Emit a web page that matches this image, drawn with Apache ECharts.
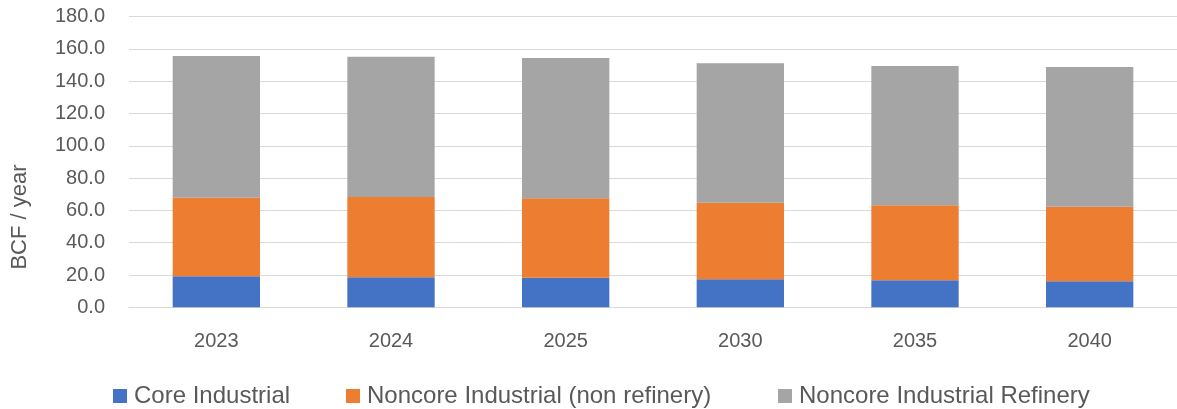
<!DOCTYPE html>
<html>
<head>
<meta charset="utf-8">
<script src="https://cdn.jsdelivr.net/npm/echarts@6/dist/echarts.min.js"></script>
<style>
html,body{margin:0;padding:0;background:#fff;}
#chart{width:1177px;height:409px;}
</style>
</head>
<body>
<div id="chart"></div>
<script>
const categories = ['2023','2024','2025','2030','2035','2040'];
const coreIndustrial = [19.2, 18.6, 18.3, 17.3, 16.7, 16.1];
const noncoreNonRefinery = [48.7, 49.7, 49.2, 47.5, 46.5, 46.2];
const noncoreRefinery = [87.7, 86.9, 86.9, 86.3, 86.2, 86.5];
const seriesNames = ['Core Industrial','Noncore Industrial (non refinery)','Noncore Industrial Refinery'];
const yTicks = {min: 0, max: 180, interval: 20};
const axisName = 'BCF / year';

const colors = ['#4472C4','#ED7D31','#A5A5A5'];
const font = 'Liberation Sans, Arial, sans-serif';
const txt = '#595959';

const chart = echarts.init(document.getElementById('chart'));
const legendBase = (name, left) => ({
  data: [name], left: left, top: 379, orient: 'horizontal',
  itemWidth: 14, itemHeight: 14, icon: 'rect',
  textStyle: {color: txt, fontSize: 24, fontFamily: font, padding: [0,0,0,2]}
});
chart.setOption({
  animation: false,
  color: colors,
  grid: {left: 129, width: 1054, top: 16.6, bottom: 101.7, containLabel: false},
  legend: [legendBase(seriesNames[0], 108), legendBase(seriesNames[1], 341), legendBase(seriesNames[2], 773)],
  graphic: [{
    type: 'text', rotation: Math.PI/2,
    style: {text: axisName, fill: txt, font: '22px ' + font, textAlign: 'center', textVerticalAlign: 'middle'},
    x: 20, y: 217
  }],
  xAxis: {
    type: 'category', data: categories,
    axisLine: {show: true, lineStyle: {color: '#d9d9d9', width: 1}},
    axisTick: {show: false},
    axisLabel: {color: txt, fontSize: 20, fontFamily: font, margin: 24}
  },
  yAxis: {
    type: 'value', min: yTicks.min, max: yTicks.max, interval: yTicks.interval,
    axisLine: {show: false}, axisTick: {show: false},
    splitLine: {lineStyle: {color: '#d9d9d9', width: 1}},
    axisLabel: {color: txt, fontSize: 20, fontFamily: font, margin: 24, formatter: v => v.toFixed(1)}
  },
  series: [
    {name: seriesNames[0], type: 'bar', stack: 's', data: coreIndustrial, barWidth: '50%'},
    {name: seriesNames[1], type: 'bar', stack: 's', data: noncoreNonRefinery, barWidth: '50%'},
    {name: seriesNames[2], type: 'bar', stack: 's', data: noncoreRefinery, barWidth: '50%'}
  ]
});
</script>
</body>
</html>
